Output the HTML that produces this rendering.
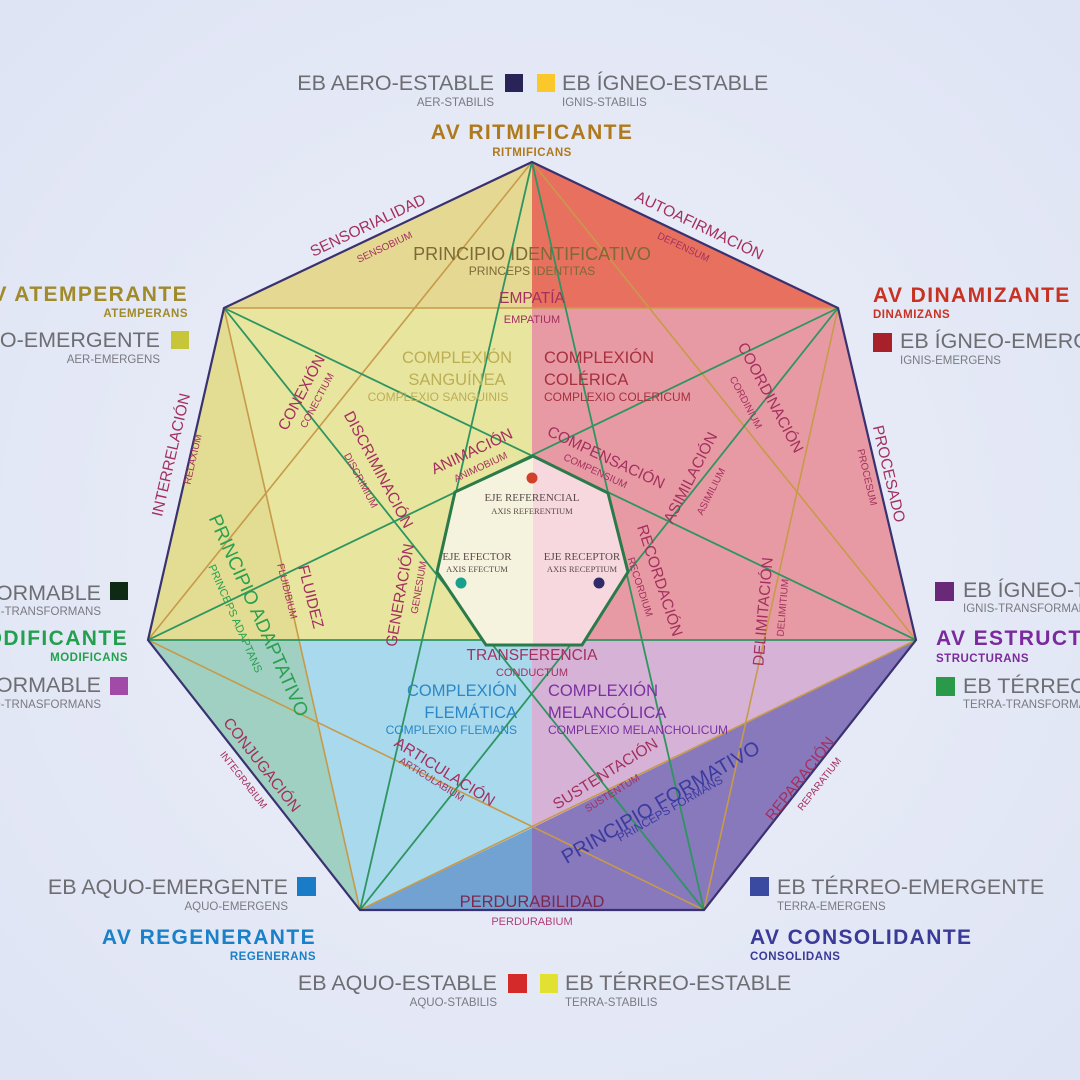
<!DOCTYPE html>
<html><head><meta charset="utf-8"><style>
html,body{margin:0;padding:0;}
body{width:1080px;height:1080px;overflow:hidden;background:#e9ecf8;}
svg{display:block;font-family:"Liberation Sans",Arial,sans-serif;}
.eb{font-size:21.5px;fill:#6d6d72;}
.ebs{font-size:11.5px;fill:#7a7a80;}
.av{font-size:21px;font-weight:bold;letter-spacing:1.4px;}
.avs{font-size:11.5px;font-weight:bold;letter-spacing:0.5px;}
.rl{font-size:15.5px;fill:#a3305e;}
.rs{font-size:10px;fill:#a3305e;}
.ax{font-family:"Liberation Serif",serif;font-size:11px;fill:#5a4a4a;}
.axs{font-family:"Liberation Serif",serif;font-size:8.5px;fill:#5a4a4a;}
</style></head><body>
<svg width="1080" height="1080" viewBox="0 0 1080 1080">
<defs>
<radialGradient id="bg" cx="50%" cy="50%" r="75%">
<stop offset="0" stop-color="#eef0f9"/><stop offset="1" stop-color="#dde3f4"/>
</radialGradient>
</defs>
<rect width="1080" height="1080" fill="url(#bg)"/>

<!-- fills -->
<polygon points="532,162 224,308 532,308" fill="#e5d893"/>
<polygon points="532,162 838,308 532,308" fill="#e8705f"/>
<polygon points="224,308 532,308 532,640 148,640" fill="#e8e59f"/>
<polygon points="224,308 299,640 148,640" fill="#e2dd93"/>
<polygon points="532,308 838,308 916,640 532,640" fill="#e89aa4"/>
<polygon points="148,640 532,640 532,828 360,910" fill="#a9d9ec"/>
<polygon points="148,640 299,640 360,910" fill="#9fd0c2"/>
<polygon points="360,910 532,828 532,910" fill="#72a2d2"/>
<polygon points="532,640 916,640 532,828" fill="#d6b3d6"/>
<polygon points="916,640 704,910 532,910 532,828" fill="#8878bc"/>

<!-- gold star {7/2} -->
<g stroke="#c79a4a" stroke-width="1.6" fill="none">
<line x1="532" y1="162" x2="916" y2="640"/>
<line x1="916" y1="640" x2="360" y2="910"/>
<line x1="360" y1="910" x2="224" y2="308"/>
<line x1="224" y1="308" x2="838" y2="308"/>
<line x1="838" y1="308" x2="704" y2="910"/>
<line x1="704" y1="910" x2="148" y2="640"/>
<line x1="148" y1="640" x2="532" y2="162"/>
</g>
<!-- green star {7/3} -->
<g stroke="#2e9560" stroke-width="1.8" fill="none">
<line x1="532" y1="162" x2="704" y2="910"/>
<line x1="704" y1="910" x2="224" y2="308"/>
<line x1="224" y1="308" x2="916" y2="640"/>
<line x1="916" y1="640" x2="148" y2="640"/>
<line x1="148" y1="640" x2="838" y2="308"/>
<line x1="838" y1="308" x2="360" y2="910"/>
<line x1="360" y1="910" x2="532" y2="162"/>
</g>
<!-- inner heptagon (covers lines) -->
<polygon points="533,456 533,645 486,645 437,572 455,492" fill="#f5f3dd"/>
<polygon points="533,456 608,493 628,572 582,645 533,645" fill="#f7d8de"/>
<polygon points="533,456 608,493 628,572 582,645 486,645 437,572 455,492" fill="none" stroke="#2a7a4a" stroke-width="3"/>
<polygon points="532,162 838,308 916,640 704,910 360,910 148,640 224,308" fill="none" stroke="#3a3170" stroke-width="2.2"/>

<circle cx="532" cy="478" r="5.5" fill="#d0402a"/>
<circle cx="461" cy="583" r="5.5" fill="#1aa08e"/>
<circle cx="599" cy="583" r="5.5" fill="#2f2a6a"/>

<!-- center axis labels -->
<g text-anchor="middle">
<text class="ax" x="532" y="501">EJE REFERENCIAL</text>
<text class="axs" x="532" y="514">AXIS REFERENTIUM</text>
<text class="ax" x="477" y="560">EJE EFECTOR</text>
<text class="axs" x="477" y="572">AXIS EFECTUM</text>
<text class="ax" x="582" y="560">EJE RECEPTOR</text>
<text class="axs" x="582" y="572">AXIS RECEPTIUM</text>
</g>

<!-- interior texts -->
<g text-anchor="middle">
<text x="532" y="260" font-size="18" fill="#7d6a35">PRINCIPIO IDENTIFICATIVO</text>
<text x="532" y="275" font-size="12" fill="#7d6a35">PRINCEPS IDENTITAS</text>
<text x="532" y="303" font-size="15.5" fill="#a3305e">EMPATÍA</text>
<text x="532" y="323" font-size="11" fill="#a3305e">EMPATIUM</text>
<text x="457" y="363" font-size="16.5" fill="#bcae55">COMPLEXIÓN</text>
<text x="457" y="385" font-size="16.5" fill="#bcae55">SANGUÍNEA</text>
<text x="438" y="401" font-size="12" fill="#bcae55">COMPLEXIO SANGUINIS</text>
<text x="532" y="660" font-size="15.5" fill="#a3305e">TRANSFERENCIA</text>
<text x="532" y="676" font-size="11" fill="#a3305e">CONDUCTUM</text>
<text x="532" y="907" font-size="16.5" fill="#7a2a50">PERDURABILIDAD</text>
<text x="532" y="925" font-size="11" fill="#b0407a">PERDURABIUM</text>
</g>
<text x="544" y="363" font-size="16.5" fill="#a5303e">COMPLEXIÓN</text>
<text x="544" y="385" font-size="16.5" fill="#a5303e">COLÉRICA</text>
<text x="544" y="401" font-size="12" fill="#a5303e">COMPLEXIO COLERICUM</text>
<g text-anchor="end" fill="#2a88c8">
<text x="517" y="696" font-size="16.5">COMPLEXIÓN</text>
<text x="517" y="718" font-size="16.5">FLEMÁTICA</text>
<text x="517" y="734" font-size="12">COMPLEXIO FLEMANS</text>
</g>
<g fill="#7a30a0">
<text x="548" y="696" font-size="16.5">COMPLEXIÓN</text>
<text x="548" y="718" font-size="16.5">MELANCÓLICA</text>
<text x="548" y="734" font-size="12">COMPLEXIO MELANCHOLICUM</text>
</g>

<!-- rotated relation labels -->
<g text-anchor="middle">
<text class="rl" transform="translate(370,230) rotate(-25.4)">SENSORIALIDAD</text>
<text class="rs" transform="translate(386,250) rotate(-25.4)">SENSOBIUM</text>
<text class="rl" transform="translate(697,230) rotate(25.4)">AUTOAFIRMACIÓN</text>
<text class="rs" transform="translate(682,250) rotate(25.4)">DEFENSUM</text>
<text class="rl" transform="translate(176,456) rotate(-77)">INTERRELACIÓN</text>
<text class="rs" transform="translate(196,460) rotate(-77)">RELAXIUM</text>
<text class="rl" transform="translate(884,475) rotate(76.8)">PROCESADO</text>
<text class="rs" transform="translate(864,478) rotate(76.8)">PROCESUM</text>
<text class="rl" transform="translate(258,768) rotate(51.9)">CONJUGACIÓN</text>
<text class="rs" transform="translate(241,782) rotate(51.9)">INTEGRABIUM</text>
<text class="rl" transform="translate(804,782) rotate(-51.9)">REPARACIÓN</text>
<text class="rs" transform="translate(822,786) rotate(-51.9)">REPARATIUM</text>
<text class="rl" transform="translate(306,395) rotate(-62)">CONEXIÓN</text>
<text class="rs" transform="translate(320,402) rotate(-62)">CONECTIUM</text>
<text class="rl" transform="translate(374,472) rotate(62)">DISCRIMINACIÓN</text>
<text class="rs" transform="translate(358,482) rotate(62)">DISCRIMIUM</text>
<text class="rl" transform="translate(474,456) rotate(-25)">ANIMACIÓN</text>
<text class="rs" transform="translate(482,470) rotate(-25)">ANIMOBIUM</text>
<text class="rl" transform="translate(604,462) rotate(25)">COMPENSACIÓN</text>
<text class="rs" transform="translate(594,474) rotate(25)">COMPENSIUM</text>
<text class="rl" transform="translate(766,400) rotate(62)">COORDINACIÓN</text>
<text class="rs" transform="translate(743,404) rotate(62)">CORDINIUM</text>
<text class="rl" transform="translate(695,480) rotate(-63)">ASIMILACIÓN</text>
<text class="rs" transform="translate(714,493) rotate(-63)">ASIMILIUM</text>
<text class="rl" transform="translate(655,582) rotate(72)">RECORDACIÓN</text>
<text class="rs" transform="translate(637,588) rotate(72)">RECORDIUM</text>
<text class="rl" transform="translate(768,612) rotate(-85)">DELIMITACIÓN</text>
<text class="rs" transform="translate(786,608) rotate(-85)">DELIMITIUM</text>
<text transform="translate(253,618) rotate(66)" font-size="19" fill="#2aa050">PRINCIPIO ADAPTATIVO</text>
<text transform="translate(232,620) rotate(66)" font-size="11" fill="#2aa050">PRINCEPS ADAPTANS</text>
<text class="rl" transform="translate(306,598) rotate(76)">FLUIDEZ</text>
<text class="rs" transform="translate(284,592) rotate(76)">FLUIDIBIUM</text>
<text class="rl" transform="translate(405,596) rotate(-80)">GENERACIÓN</text>
<text class="rs" transform="translate(422,588) rotate(-80)">GENESIUM</text>
<text class="rl" transform="translate(442,776) rotate(32)">ARTICULACIÓN</text>
<text class="rs" transform="translate(430,782) rotate(32)">ARTICULABIUM</text>
<text class="rl" transform="translate(608,778) rotate(-32)">SUSTENTACIÓN</text>
<text class="rs" transform="translate(614,796) rotate(-32)">SUSTENTUM</text>
<text transform="translate(664,808) rotate(-30)" font-size="20" fill="#3a3aa0">PRINCIPIO FORMATIVO</text>
<text transform="translate(672,812) rotate(-30)" font-size="11.5" fill="#3a3aa0">PRINCEPS FORMANS</text>
</g>

<!-- outer labels -->
<text class="eb" x="494" y="90" text-anchor="end">EB AERO-ESTABLE</text>
<text class="ebs" x="494" y="106" text-anchor="end">AER-STABILIS</text>
<rect x="505" y="74" width="18" height="18" fill="#2a2358"/>
<rect x="537" y="74" width="18" height="18" fill="#fbc82c"/>
<text class="eb" x="562" y="90">EB ÍGNEO-ESTABLE</text>
<text class="ebs" x="562" y="106">IGNIS-STABILIS</text>
<text class="av" x="532" y="139" text-anchor="middle" fill="#b07a1c">AV RITMIFICANTE</text>
<text class="avs" x="532" y="156" text-anchor="middle" fill="#b07a1c">RITMIFICANS</text>

<text class="av" x="188" y="301" text-anchor="end" fill="#a08a2a">AV ATEMPERANTE</text>
<text class="avs" x="188" y="317" text-anchor="end" fill="#a08a2a">ATEMPERANS</text>
<text class="eb" x="160" y="347" text-anchor="end">EB AERO-EMERGENTE</text>
<text class="ebs" x="160" y="363" text-anchor="end">AER-EMERGENS</text>
<rect x="171" y="331" width="18" height="18" fill="#c7c538"/>
<text class="eb" x="101" y="600" text-anchor="end">EB AERO-TRANSFORMABLE</text>
<text class="ebs" x="101" y="615" text-anchor="end">AER-TRANSFORMANS</text>
<rect x="110" y="582" width="18" height="18" fill="#0f2a14"/>
<text class="av" x="128" y="645" text-anchor="end" fill="#22a04e">AV MODIFICANTE</text>
<text class="avs" x="128" y="661" text-anchor="end" fill="#22a04e">MODIFICANS</text>
<text class="eb" x="101" y="692" text-anchor="end">EB AQUO-TRANSFORMABLE</text>
<text class="ebs" x="101" y="708" text-anchor="end">AQUO-TRNASFORMANS</text>
<rect x="110" y="677" width="18" height="18" fill="#a24aa8"/>

<text class="av" x="873" y="302" fill="#c83222">AV DINAMIZANTE</text>
<text class="avs" x="873" y="318" fill="#c83222">DINAMIZANS</text>
<rect x="873" y="333" width="19" height="19" fill="#a8202a"/>
<text class="eb" x="900" y="348">EB ÍGNEO-EMERGENTE</text>
<text class="ebs" x="900" y="364">IGNIS-EMERGENS</text>
<rect x="935" y="582" width="19" height="19" fill="#6a2878"/>
<text class="eb" x="963" y="597">EB ÍGNEO-TRANSFORMABLE</text>
<text class="ebs" x="963" y="612">IGNIS-TRANSFORMANS</text>
<text class="av" x="936" y="645" fill="#7a2a9c">AV ESTRUCTURANTE</text>
<text class="avs" x="936" y="662" fill="#7a2a9c">STRUCTURANS</text>
<rect x="936" y="677" width="19" height="19" fill="#2a9a4a"/>
<text class="eb" x="963" y="693">EB TÉRREO-TRANSFORMABLE</text>
<text class="ebs" x="963" y="708">TERRA-TRANSFORMANS</text>

<text class="eb" x="288" y="894" text-anchor="end">EB AQUO-EMERGENTE</text>
<text class="ebs" x="288" y="910" text-anchor="end">AQUO-EMERGENS</text>
<rect x="297" y="877" width="19" height="19" fill="#1a7cc6"/>
<text class="av" x="316" y="944" text-anchor="end" fill="#1a80c8">AV REGENERANTE</text>
<text class="avs" x="316" y="960" text-anchor="end" fill="#1a80c8">REGENERANS</text>
<rect x="750" y="877" width="19" height="19" fill="#3a4aa0"/>
<text class="eb" x="777" y="894">EB TÉRREO-EMERGENTE</text>
<text class="ebs" x="777" y="910">TERRA-EMERGENS</text>
<text class="av" x="750" y="944" fill="#3a3a98">AV CONSOLIDANTE</text>
<text class="avs" x="750" y="960" fill="#3a3a98">CONSOLIDANS</text>
<text class="eb" x="497" y="990" text-anchor="end">EB AQUO-ESTABLE</text>
<text class="ebs" x="497" y="1006" text-anchor="end">AQUO-STABILIS</text>
<rect x="508" y="974" width="19" height="19" fill="#d42a2a"/>
<rect x="540" y="974" width="18" height="19" fill="#e2e030"/>
<text class="eb" x="565" y="990">EB TÉRREO-ESTABLE</text>
<text class="ebs" x="565" y="1006">TERRA-STABILIS</text>
</svg>
</body></html>
